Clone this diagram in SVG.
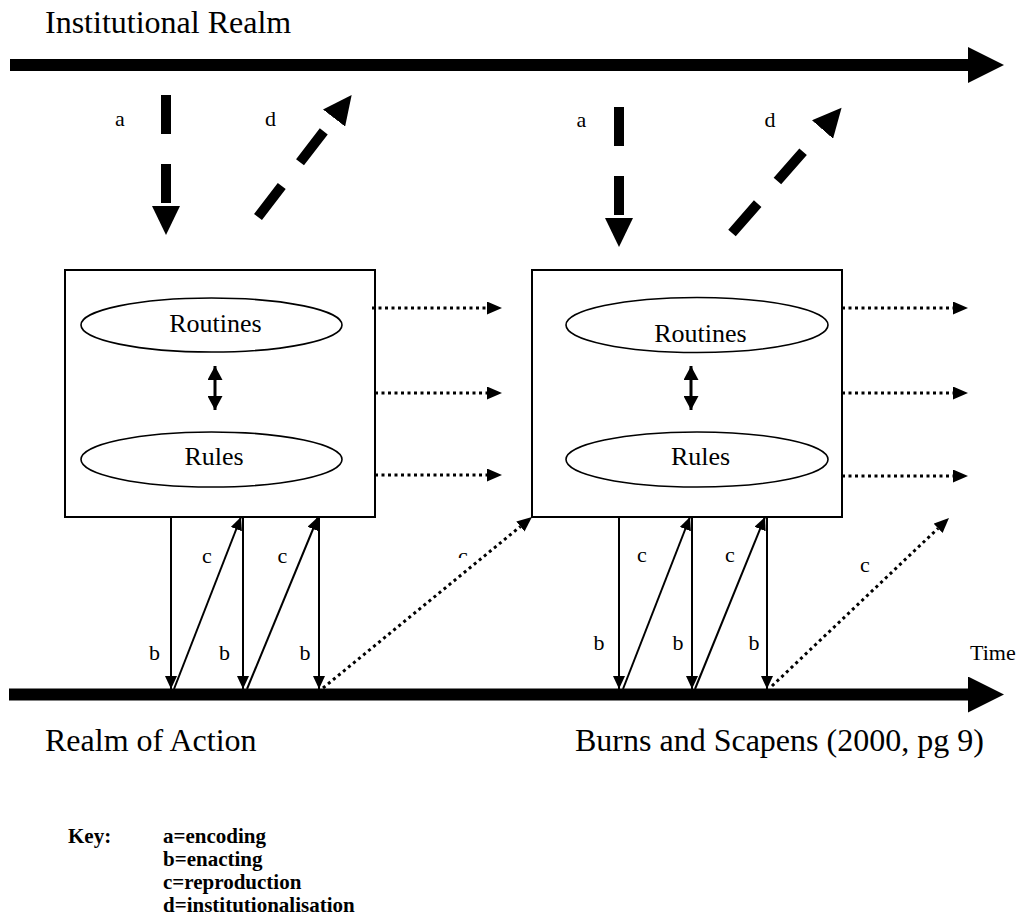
<svg xmlns="http://www.w3.org/2000/svg" width="1021" height="922" viewBox="0 0 1021 922">
  <style>
    text { font-family: "Liberation Serif", "Times New Roman", serif; fill: #000; }
    .title { font-size: 32px; }
    .lbl { font-size: 22px; }
    .inner { font-size: 26px; }
    .key { font-size: 21px; font-weight: bold; }
    .bar { stroke: #000; stroke-width: 12; fill: none; }
    .thick { stroke: #000; stroke-width: 10; stroke-dasharray: 39 30; fill: none; }
    .thin { stroke: #000; stroke-width: 2; fill: none; }
    .dots { stroke: #000; stroke-width: 3; stroke-dasharray: 3 3.5; fill: none; }
    .box { fill: #fff; stroke: #000; stroke-width: 2; }
    .oval { fill: #fff; stroke: #000; stroke-width: 1.6; }
  </style>
  <defs>
    <marker id="barHead" markerUnits="userSpaceOnUse" markerWidth="36" markerHeight="36" refX="0" refY="18" orient="auto">
      <path d="M0,0 L36,18 L0,36 Z" fill="#000"/>
    </marker>
    <marker id="bigHead" markerUnits="userSpaceOnUse" markerWidth="30" markerHeight="28" refX="0" refY="14" orient="auto">
      <path d="M0,0 L29,14 L0,28 Z" fill="#000"/>
    </marker>
    <marker id="smallHead" markerUnits="userSpaceOnUse" markerWidth="13" markerHeight="12" refX="13" refY="6" orient="auto">
      <path d="M0,0 L13,6 L0,12 Z" fill="#000"/>
    </marker>
    <marker id="dotHead" markerUnits="userSpaceOnUse" markerWidth="15" markerHeight="13" refX="0" refY="6.5" orient="auto">
      <path d="M0,0 L15,6.5 L0,13 Z" fill="#000"/>
    </marker>
    <marker id="twinHead" markerUnits="userSpaceOnUse" markerWidth="14" markerHeight="15" refX="14" refY="7.5" orient="auto-start-reverse">
      <path d="M0,0 L14,7.5 L0,15 Z" fill="#000"/>
    </marker>
    <clipPath id="cutLabel">
      <rect x="440" y="530" width="60" height="28"/>
    </clipPath>
  </defs>

  <rect width="1021" height="922" fill="#fff"/>

  <!-- realm axes -->
  <g id="institutional-realm">
    <line class="bar" x1="10" y1="65" x2="968" y2="65" marker-end="url(#barHead)"/>
    <text class="title" x="45" y="33">Institutional Realm</text>
  </g>
  <g id="realm-of-action">
    <line class="bar" x1="9" y1="694.5" x2="968" y2="694.5" marker-end="url(#barHead)"/>
    <text class="title" x="45" y="751">Realm of Action</text>
    <text class="lbl" x="970" y="660">Time</text>
  </g>
  <g id="source">
    <text class="title" x="575" y="751">Burns and Scapens (2000, pg 9)</text>
  </g>

  <!-- first organisational setting -->
  <g id="setting-1">
    <rect class="box" x="65" y="270" width="310" height="247"/>
    <ellipse class="oval" cx="211.5" cy="325" rx="130.5" ry="27"/>
    <text class="inner" x="215.5" y="332" text-anchor="middle">Routines</text>
    <ellipse class="oval" cx="211.5" cy="459.5" rx="130.5" ry="27.5"/>
    <text class="inner" x="214" y="465" text-anchor="middle">Rules</text>
    <line class="thin" style="stroke-width:3" x1="215" y1="366" x2="215" y2="410" marker-start="url(#twinHead)" marker-end="url(#twinHead)"/>
  </g>

  <!-- second organisational setting -->
  <g id="setting-2">
    <rect class="box" x="532" y="270" width="310" height="247"/>
    <ellipse class="oval" cx="697" cy="325" rx="131" ry="27.5"/>
    <text class="inner" x="700.5" y="342" text-anchor="middle">Routines</text>
    <ellipse class="oval" cx="697" cy="459.5" rx="131" ry="27.5"/>
    <text class="inner" x="700.5" y="465" text-anchor="middle">Rules</text>
    <line class="thin" style="stroke-width:3" x1="691" y1="366" x2="691" y2="410" marker-start="url(#twinHead)" marker-end="url(#twinHead)"/>
  </g>

  <!-- connectors -->
  <g id="connectors">
    <!-- a: encoding, d: institutionalisation -->
    <line class="thick" x1="166" y1="95" x2="166" y2="206" marker-end="url(#bigHead)"/>
    <line class="thick" x1="258" y1="217" x2="334" y2="118" marker-end="url(#bigHead)"/>
    <line class="thick" x1="619" y1="107" x2="619" y2="218" marker-end="url(#bigHead)"/>
    <line class="thick" x1="732" y1="233" x2="822.5" y2="129.5" marker-end="url(#bigHead)"/>

    <!-- carry-over through time -->
    <line class="dots" x1="372" y1="308" x2="487" y2="308" marker-end="url(#dotHead)"/>
    <line class="dots" x1="375" y1="393" x2="487" y2="393" marker-end="url(#dotHead)"/>
    <line class="dots" x1="375" y1="475" x2="487" y2="475" marker-end="url(#dotHead)"/>
    <line class="dots" x1="842" y1="308" x2="953" y2="308" marker-end="url(#dotHead)"/>
    <line class="dots" x1="842" y1="393" x2="953" y2="393" marker-end="url(#dotHead)"/>
    <line class="dots" x1="842" y1="476" x2="953" y2="476" marker-end="url(#dotHead)"/>

    <!-- b: enacting, c: reproduction (first setting) -->
    <line class="thin" x1="171" y1="517" x2="171" y2="689" marker-end="url(#smallHead)"/>
    <line class="thin" x1="174" y1="689" x2="241" y2="517" marker-end="url(#smallHead)"/>
    <line class="thin" x1="243" y1="517" x2="243" y2="689" marker-end="url(#smallHead)"/>
    <line class="thin" x1="247" y1="689" x2="318" y2="517" marker-end="url(#smallHead)"/>
    <line class="thin" x1="319" y1="517" x2="319" y2="689" marker-end="url(#smallHead)"/>
    <line class="dots" x1="323" y1="688" x2="520.4" y2="526.5" marker-end="url(#dotHead)"/>

    <!-- b: enacting, c: reproduction (second setting) -->
    <line class="thin" x1="619" y1="517" x2="619" y2="689" marker-end="url(#smallHead)"/>
    <line class="thin" x1="623" y1="689" x2="690" y2="517" marker-end="url(#smallHead)"/>
    <line class="thin" x1="692" y1="517" x2="692" y2="689" marker-end="url(#smallHead)"/>
    <line class="thin" x1="695" y1="689" x2="765" y2="517" marker-end="url(#smallHead)"/>
    <line class="thin" x1="767" y1="517" x2="767" y2="689" marker-end="url(#smallHead)"/>
    <line class="dots" x1="772" y1="686" x2="938.1" y2="528.3" marker-end="url(#dotHead)"/>

    <!-- labels -->
    <text class="lbl" x="120" y="126" text-anchor="middle">a</text>
    <text class="lbl" x="270.5" y="126" text-anchor="middle">d</text>
    <text class="lbl" x="581.5" y="127" text-anchor="middle">a</text>
    <text class="lbl" x="770" y="127" text-anchor="middle">d</text>

    <text class="lbl" x="207" y="563" text-anchor="middle">c</text>
    <text class="lbl" x="282.5" y="563" text-anchor="middle">c</text>
    <text class="lbl" x="463" y="563" text-anchor="middle" clip-path="url(#cutLabel)">c</text>
    <text class="lbl" x="154.5" y="660" text-anchor="middle">b</text>
    <text class="lbl" x="224.5" y="660" text-anchor="middle">b</text>
    <text class="lbl" x="305" y="660" text-anchor="middle">b</text>

    <text class="lbl" x="642" y="562" text-anchor="middle">c</text>
    <text class="lbl" x="730" y="562" text-anchor="middle">c</text>
    <text class="lbl" x="865" y="572" text-anchor="middle">c</text>
    <text class="lbl" x="599" y="650" text-anchor="middle">b</text>
    <text class="lbl" x="678" y="650" text-anchor="middle">b</text>
    <text class="lbl" x="754" y="650" text-anchor="middle">b</text>
  </g>

  <!-- key -->
  <g id="key">
    <text class="key" x="68" y="843">Key:</text>
    <text class="key" x="163" y="843">a=encoding</text>
    <text class="key" x="163" y="866">b=enacting</text>
    <text class="key" x="163" y="889">c=reproduction</text>
    <text class="key" x="163" y="912">d=institutionalisation</text>
  </g>
</svg>
